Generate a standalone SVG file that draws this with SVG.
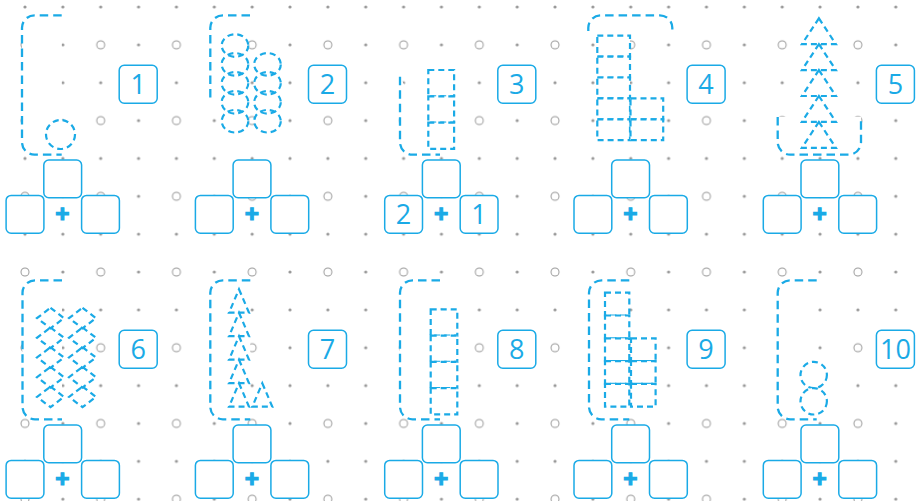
<svg xmlns="http://www.w3.org/2000/svg" width="921" height="501" viewBox="0 0 921 501">
<defs>
<pattern id="grid" x="6.07" y="-11.93" width="75.72" height="75.72" patternUnits="userSpaceOnUse">
<circle cx="18.93" cy="18.93" r="1.6" fill="#999"/>
<circle cx="56.79" cy="18.93" r="1.6" fill="#999"/>
<circle cx="56.79" cy="56.79" r="1.6" fill="#999"/>
<circle cx="18.93" cy="56.79" r="4" fill="none" stroke="#999" stroke-width="1"/>
</pattern>
</defs>
<style>
.dash{fill:#fff;stroke:#1aaae6;stroke-width:2.3;stroke-dasharray:8.5 5}
.dn{fill:none;stroke:#1aaae6;stroke-width:2.2;stroke-dasharray:6 4}
.wf{fill:#fff;stroke:none}
.sh{fill:#fff;stroke:#1aaae6;stroke-width:2.2;stroke-dasharray:6 4}
.box{fill:#fff;stroke:#1aaae6;stroke-width:1.5}
.num{font-family:"Open Sans","Noto Sans",sans-serif;font-size:27px;fill:#1aaae6;text-anchor:middle}
.plus{font-family:"Open Sans","Noto Sans",sans-serif;font-size:25px;font-weight:700;fill:#1aaae6;stroke:#1aaae6;stroke-width:1.2;text-anchor:middle}
</style>
<rect width="921" height="501" fill="#fff"/>
<rect width="921" height="501" fill="url(#grid)"/>

<g id="p1">
<path class="dash" d="M61.7 15.3H34.5A12.5 12.5 0 0 0 22 27.8V142.2A12.5 12.5 0 0 0 34.5 154.7H61.7"/>
<circle class="sh" cx="60.5" cy="134.5" r="14.5"/>
<rect class="box" x="119.2" y="65.2" width="38" height="38" rx="5"/>
<text class="num" x="138.2" y="93.5">1</text>
<rect class="box" x="6.1" y="195.4" width="37.8" height="37.8" rx="5"/>
<rect class="box" x="81.6" y="195.4" width="37.8" height="37.8" rx="5"/>
<rect class="box" x="43.8" y="160" width="37.8" height="37.8" rx="5"/>
<text class="plus" x="62.5" y="222.8">+</text>
</g>

<g id="p2" transform="translate(189.3 0)">
<path class="dash" d="M60.7 15.3H33.5A12.5 12.5 0 0 0 21 27.8V102"/>
<g class="wf">
<ellipse cx="45.7" cy="45.5" rx="13.3" ry="11.3"/>
<ellipse cx="45.7" cy="64.4" rx="13.3" ry="11.3"/>
<ellipse cx="45.7" cy="83.3" rx="13.3" ry="11.3"/>
<ellipse cx="45.7" cy="102.3" rx="13.3" ry="11.3"/>
<ellipse cx="45.7" cy="121.2" rx="13.3" ry="11.3"/>
<ellipse cx="78.2" cy="64.4" rx="13.3" ry="11.3"/>
<ellipse cx="78.2" cy="83.3" rx="13.3" ry="11.3"/>
<ellipse cx="78.2" cy="102.3" rx="13.3" ry="11.3"/>
<ellipse cx="78.2" cy="121.2" rx="13.3" ry="11.3"/>
</g>
<g class="dn">
<ellipse cx="45.7" cy="45.5" rx="13.3" ry="11.3"/>
<ellipse cx="45.7" cy="64.4" rx="13.3" ry="11.3"/>
<ellipse cx="45.7" cy="83.3" rx="13.3" ry="11.3"/>
<ellipse cx="45.7" cy="102.3" rx="13.3" ry="11.3"/>
<ellipse cx="45.7" cy="121.2" rx="13.3" ry="11.3"/>
<ellipse cx="78.2" cy="64.4" rx="13.3" ry="11.3"/>
<ellipse cx="78.2" cy="83.3" rx="13.3" ry="11.3"/>
<ellipse cx="78.2" cy="102.3" rx="13.3" ry="11.3"/>
<ellipse cx="78.2" cy="121.2" rx="13.3" ry="11.3"/>
</g>
<rect class="box" x="119.2" y="65.2" width="38" height="38" rx="5"/>
<text class="num" x="138.2" y="93.5">2</text>
<rect class="box" x="6.1" y="195.4" width="37.8" height="37.8" rx="5"/>
<rect class="box" x="81.6" y="195.4" width="37.8" height="37.8" rx="5"/>
<rect class="box" x="43.8" y="160" width="37.8" height="37.8" rx="5"/>
<text class="plus" x="62.5" y="222.8">+</text>
</g>

<g id="p3" transform="translate(378.6 0)">
<path class="dash" d="M21.4 76.7V142.2A12.5 12.5 0 0 0 33.9 154.7H61.4"/>
<rect class="sh" x="49.7" y="70" width="25.8" height="26.3"/>
<rect class="sh" x="49.7" y="96.3" width="25.8" height="26.3"/>
<rect class="sh" x="49.7" y="122.6" width="25.8" height="26.3"/>
<rect class="box" x="119.2" y="65.2" width="38" height="38" rx="5"/>
<text class="num" x="138.2" y="93.5">3</text>
<rect class="box" x="6.1" y="195.4" width="37.8" height="37.8" rx="5"/>
<rect class="box" x="81.6" y="195.4" width="37.8" height="37.8" rx="5"/>
<rect class="box" x="43.8" y="160" width="37.8" height="37.8" rx="5"/>
<text class="plus" x="62.5" y="222.8">+</text>
<text class="num" x="25" y="223.8">2</text>
<text class="num" x="100.5" y="223.8">1</text>
</g>

<g id="p4" transform="translate(567.9 0)">
<path class="dash" d="M20.4 31V27.8A12.5 12.5 0 0 1 32.9 15.3H91.9A12.5 12.5 0 0 1 104.4 27.8V31"/>
<rect class="sh" x="29.4" y="35.7" width="32.7" height="20.9"/>
<rect class="sh" x="29.4" y="56.6" width="32.7" height="20.9"/>
<rect class="sh" x="29.4" y="77.5" width="32.7" height="20.9"/>
<rect class="sh" x="29.4" y="98.4" width="32.7" height="20.9"/>
<rect class="sh" x="29.4" y="119.3" width="32.7" height="20.9"/>
<rect class="sh" x="62.6" y="98.4" width="32.7" height="20.9"/>
<rect class="sh" x="62.6" y="119.3" width="32.7" height="20.9"/>
<rect class="box" x="119.2" y="65.2" width="38" height="38" rx="5"/>
<text class="num" x="138.2" y="93.5">4</text>
<rect class="box" x="6.1" y="195.4" width="37.8" height="37.8" rx="5"/>
<rect class="box" x="81.6" y="195.4" width="37.8" height="37.8" rx="5"/>
<rect class="box" x="43.8" y="160" width="37.8" height="37.8" rx="5"/>
<text class="plus" x="62.5" y="222.8">+</text>
</g>

<g id="p5" transform="translate(757.2 0)">
<path class="dash" d="M20.5 117V142.2A12.5 12.5 0 0 0 33 154.7H91.3A12.5 12.5 0 0 0 103.8 142.2V117"/>
<path class="sh" d="M61.7 18.3L78.7 44.2H44.7Z"/>
<path class="sh" d="M61.7 44.2L78.7 70.1H44.7Z"/>
<path class="sh" d="M61.7 70.1L78.7 96H44.7Z"/>
<path class="sh" d="M61.7 96L78.7 121.9H44.7Z"/>
<path class="sh" d="M61.7 121.9L78.7 147.8H44.7Z"/>
<rect class="box" x="119.2" y="65.2" width="38" height="38" rx="5"/>
<text class="num" x="138.2" y="93.5">5</text>
<rect class="box" x="6.1" y="195.4" width="37.8" height="37.8" rx="5"/>
<rect class="box" x="81.6" y="195.4" width="37.8" height="37.8" rx="5"/>
<rect class="box" x="43.8" y="160" width="37.8" height="37.8" rx="5"/>
<text class="plus" x="62.5" y="222.8">+</text>
</g>

<g id="p6" transform="translate(0 265)">
<path class="dash" d="M62 15.3H35A12.5 12.5 0 0 0 22.5 27.8V141.8A12.5 12.5 0 0 0 35 154.3H62"/>
<path class="dn" d="M50.5 42.8L64 53.1L50.5 63.4L37 53.1Z M50.5 62.5L64 72.8L50.5 83.1L37 72.8Z M50.5 82.2L64 92.5L50.5 102.8L37 92.5Z M50.5 101.9L64 112.2L50.5 122.5L37 112.2Z M50.5 121.6L64 131.9L50.5 142.2L37 131.9Z"/>
<path class="dn" d="M82.5 42.8L96 53.1L82.5 63.4L69 53.1Z M82.5 62.5L96 72.8L82.5 83.1L69 72.8Z M82.5 82.2L96 92.5L82.5 102.8L69 92.5Z M82.5 101.9L96 112.2L82.5 122.5L69 112.2Z M82.5 121.6L96 131.9L82.5 142.2L69 131.9Z"/>
<rect class="box" x="119.2" y="65.2" width="38" height="38" rx="5"/>
<text class="num" x="138.2" y="93.5">6</text>
<rect class="box" x="6.1" y="195.4" width="37.8" height="37.8" rx="5"/>
<rect class="box" x="81.6" y="195.4" width="37.8" height="37.8" rx="5"/>
<rect class="box" x="43.8" y="160" width="37.8" height="37.8" rx="5"/>
<text class="plus" x="62.5" y="222.8">+</text>
</g>

<g id="p7" transform="translate(189.3 265)">
<path class="dash" d="M61 15.3H33.5A12.5 12.5 0 0 0 21 27.8V141.8A12.5 12.5 0 0 0 33.5 154.3H61"/>
<path class="sh" d="M49.7 24.2L59.7 47.7H39.7Z"/>
<path class="sh" d="M49.7 47.7L59.7 71.2H39.7Z"/>
<path class="sh" d="M49.7 71.2L59.7 94.7H39.7Z"/>
<path class="sh" d="M49.7 94.7L59.7 118.2H39.7Z"/>
<path class="sh" d="M49.7 118.2L59.7 141.7H39.7Z"/>
<path class="sh" d="M73 118.2L83 141.7H63Z"/>
<rect class="box" x="119.2" y="65.2" width="38" height="38" rx="5"/>
<text class="num" x="138.2" y="93.5">7</text>
<rect class="box" x="6.1" y="195.4" width="37.8" height="37.8" rx="5"/>
<rect class="box" x="81.6" y="195.4" width="37.8" height="37.8" rx="5"/>
<rect class="box" x="43.8" y="160" width="37.8" height="37.8" rx="5"/>
<text class="plus" x="62.5" y="222.8">+</text>
</g>

<g id="p8" transform="translate(378.6 265)">
<path class="dash" d="M61.4 15.3H33.9A12.5 12.5 0 0 0 21.4 27.8V141.8A12.5 12.5 0 0 0 33.9 154.3H61.4"/>
<rect class="sh" x="52.1" y="44.3" width="26.6" height="26.25"/>
<rect class="sh" x="52.1" y="70.55" width="26.6" height="26.25"/>
<rect class="sh" x="52.1" y="96.8" width="26.6" height="26.25"/>
<rect class="sh" x="52.1" y="123.05" width="26.6" height="26.25"/>
<rect class="box" x="119.2" y="65.2" width="38" height="38" rx="5"/>
<text class="num" x="138.2" y="93.5">8</text>
<rect class="box" x="6.1" y="195.4" width="37.8" height="37.8" rx="5"/>
<rect class="box" x="81.6" y="195.4" width="37.8" height="37.8" rx="5"/>
<rect class="box" x="43.8" y="160" width="37.8" height="37.8" rx="5"/>
<text class="plus" x="62.5" y="222.8">+</text>
</g>

<g id="p9" transform="translate(567.9 265)">
<path class="dash" d="M61.4 15.3H33.6A12.5 12.5 0 0 0 21.1 27.8V141.8A12.5 12.5 0 0 0 33.6 154.3H61.4"/>
<rect class="sh" x="37.1" y="27.7" width="24.3" height="22.8"/>
<rect class="sh" x="37.1" y="50.5" width="24.3" height="22.8"/>
<rect class="sh" x="37.1" y="73.3" width="24.3" height="22.8"/>
<rect class="sh" x="37.1" y="96.1" width="24.3" height="22.8"/>
<rect class="sh" x="37.1" y="118.9" width="24.3" height="22.8"/>
<rect class="sh" x="63.1" y="73.3" width="24.6" height="22.8"/>
<rect class="sh" x="63.1" y="96.1" width="24.6" height="22.8"/>
<rect class="sh" x="63.1" y="118.9" width="24.6" height="22.8"/>
<rect class="box" x="119.2" y="65.2" width="38" height="38" rx="5"/>
<text class="num" x="138.2" y="93.5">9</text>
<rect class="box" x="6.1" y="195.4" width="37.8" height="37.8" rx="5"/>
<rect class="box" x="81.6" y="195.4" width="37.8" height="37.8" rx="5"/>
<rect class="box" x="43.8" y="160" width="37.8" height="37.8" rx="5"/>
<text class="plus" x="62.5" y="222.8">+</text>
</g>

<g id="p10" transform="translate(757.2 265)">
<path class="dash" d="M59.5 15.3H33A12.5 12.5 0 0 0 20.5 27.8V141.8A12.5 12.5 0 0 0 33 154.3H59.5"/>
<circle class="sh" cx="56.5" cy="110" r="13.2"/>
<circle class="sh" cx="56.5" cy="136.3" r="13.2"/>
<rect class="box" x="119.2" y="65.2" width="38" height="38" rx="5"/>
<text class="num" x="138.2" y="93.5">10</text>
<rect class="box" x="6.1" y="195.4" width="37.8" height="37.8" rx="5"/>
<rect class="box" x="81.6" y="195.4" width="37.8" height="37.8" rx="5"/>
<rect class="box" x="43.8" y="160" width="37.8" height="37.8" rx="5"/>
<text class="plus" x="62.5" y="222.8">+</text>
</g>
</svg>
